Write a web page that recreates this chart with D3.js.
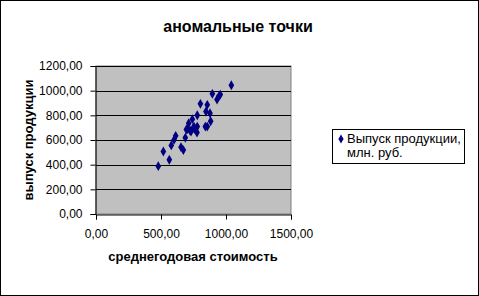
<!DOCTYPE html>
<html>
<head>
<meta charset="utf-8">
<script src="https://cdn.jsdelivr.net/npm/d3@7"></script>
<style>
  body { margin: 0; background: #fff; }
  svg { display: block; font-family: "Liberation Sans", Arial, sans-serif; }
</style>
</head>
<body>
<svg id="chart" width="479" height="296"></svg>
<script>
// среднегодовая стоимость (x) / выпуск продукции (y)
const costValues = [479, 518, 564, 579, 600, 613, 654, 672, 687, 703, 713, 723, 741, 749, 764, 777, 779, 779, 803, 841, 846, 856, 856, 877, 882, 895, 931, 944, 956, 1041, 695, 731, 754];
const outputValues = [388, 507, 440, 556, 601, 634, 542, 518, 618, 688, 736, 677, 769, 698, 682, 661, 709, 801, 893, 709, 831, 885, 709, 817, 752, 974, 928, 952, 968, 1044, 685, 669, 709];
const xTicks = [0, 500, 1000, 1500];
const yTicks = [0, 200, 400, 600, 800, 1000, 1200];
const seriesName = ['Выпуск продукции,', 'млн. руб.'];

const fmt = v => d3.format('.2f')(v).replace('.', ',');

const svg = d3.select('#chart');
const W = 479, H = 296;
const plot = { left: 96, right: 291, top: 66, bottom: 214 };

// outer frame
svg.append('rect').attr('x', 0.5).attr('y', 0.5).attr('width', W - 1).attr('height', H - 1)
  .attr('fill', '#fff').attr('stroke', '#000');

const x = d3.scaleLinear().domain([0, 1500]).range([plot.left, plot.right]);
const y = d3.scaleLinear().domain([0, 1200]).range([plot.bottom, plot.top]);

// plot area
svg.append('rect').attr('x', plot.left).attr('y', plot.top)
  .attr('width', plot.right - plot.left).attr('height', plot.bottom - plot.top)
  .attr('fill', '#c0c0c0').attr('stroke', '#808080');

// gridlines
svg.append('g').selectAll('line').data(yTicks.filter(t => t > 0)).join('line')
  .attr('x1', plot.left).attr('x2', plot.right)
  .attr('y1', d => Math.round(y(d)) + 0.5).attr('y2', d => Math.round(y(d)) + 0.5)
  .attr('stroke', '#000');

// axes
const xAxis = svg.append('g').attr('transform', `translate(0,${plot.bottom + 0.5})`)
  .call(d3.axisBottom(x).tickValues(xTicks).tickFormat(fmt).tickSize(5).tickPadding(10));
const yAxis = svg.append('g').attr('transform', `translate(${plot.left - 0.5},0)`)
  .call(d3.axisLeft(y).tickValues(yTicks).tickFormat(fmt).tickSize(5).tickPadding(8));
[xAxis, yAxis].forEach(a => {
  a.selectAll('.domain').attr('stroke', '#000');
  a.selectAll('.tick line').attr('stroke', '#000');
  a.selectAll('text').attr('fill', '#000').style('font-size', '12px')
    .style('font-family', '"Liberation Sans", Arial, sans-serif');
});

// points
const diamond = d3.symbol().type(d3.symbolDiamond).size(28);
svg.append('g').selectAll('path').data(costValues.map((c, i) => [c, outputValues[i]])).join('path')
  .attr('d', diamond)
  .attr('transform', d => `translate(${x(d[0])},${y(d[1])})`)
  .attr('fill', '#000080');

// titles
svg.append('text').attr('x', 238).attr('y', 32).attr('text-anchor', 'middle')
  .style('font-size', '16px').style('font-weight', 'bold').text('аномальные точки');
svg.append('text').attr('x', 193).attr('y', 261).attr('text-anchor', 'middle')
  .style('font-size', '13px').style('font-weight', 'bold').text('среднегодовая стоимость');
svg.append('text').attr('transform', `translate(33,${(plot.top + plot.bottom) / 2}) rotate(-90)`)
  .attr('text-anchor', 'middle')
  .style('font-size', '13px').style('font-weight', 'bold').text('выпуск продукции');

// legend
const lg = svg.append('g');
lg.append('rect').attr('x', 332.5).attr('y', 129.5).attr('width', 132).attr('height', 34)
  .attr('fill', '#fff').attr('stroke', '#000');
lg.append('path').attr('d', d3.symbol().type(d3.symbolDiamond).size(24))
  .attr('transform', 'translate(341,139)').attr('fill', '#000080');
lg.selectAll('text').data(seriesName).join('text')
  .attr('x', 347).attr('y', (d, i) => 143 + i * 14)
  .style('font-size', '13px').text(d => d);
</script>
</body>
</html>
